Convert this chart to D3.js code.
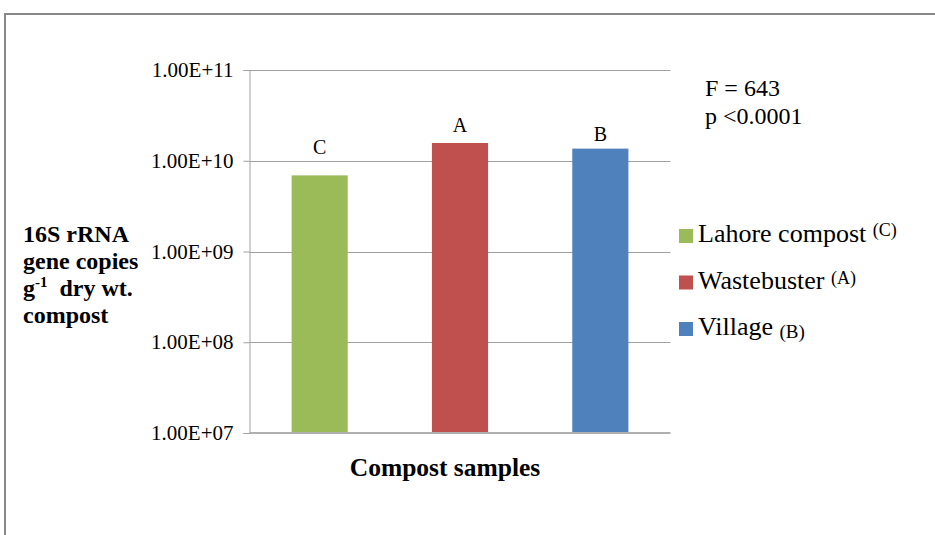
<!DOCTYPE html>
<html>
<head>
<meta charset="utf-8">
<script src="https://cdn.jsdelivr.net/npm/d3@7"></script>
<style>
  body { margin: 0; background: #fff; }
  svg text { font-family: "Liberation Serif", "Times New Roman", serif; }
</style>
</head>
<body>
<svg id="chart"></svg>
<script>
// data
let samples = ['Lahore compost', 'Wastebuster', 'Village'];
let copies = [6.9e9, 1.57e10, 1.36e10];
let groups = ['C', 'A', 'B'];
let colors = ['#9bbb59', '#c0504d', '#4f81bd'];
let tickValues = [1e7, 1e8, 1e9, 1e10, 1e11];
let tickLabels = ['1.00E+07', '1.00E+08', '1.00E+09', '1.00E+10', '1.00E+11'];

// gap between bar top and its letter (layout only)
let letterGaps = [21, 11, 8];

let width = 935,
    height = 535;

let plotLeft = 249.5, plotRight = 670.5,
    plotTop = 70, plotBottom = 433;

let svg = d3.select("svg#chart")
    .attr("width", width)
    .attr("height", height);

// outer frame (only top and left edges are visible)
svg.append("path")
    .attr("d", `M5,${height} L5,14 L${width},14`)
    .attr("fill", "none")
    .attr("stroke", "#888")
    .attr("stroke-width", 2);

let x = d3.scaleBand()
    .domain(samples)
    .range([plotLeft, plotRight])
    .paddingInner(0.6)
    .paddingOuter(0.3);

let y = d3.scaleLog()
    .domain([1e7, 1e11])
    .range([plotBottom, plotTop]);

// gridlines
svg.append("g")
    .selectAll("line")
    .data(tickValues.slice(1))
    .enter().append("line")
    .attr("x1", plotLeft)
    .attr("x2", plotRight)
    .attr("y1", d => Math.round(y(d)) + 0.5)
    .attr("y2", d => Math.round(y(d)) + 0.5)
    .attr("stroke", "#a0a0a0")
    .attr("stroke-width", 1);

// y axis
let yAxis = svg.append("g")
    .attr("transform", `translate(${plotLeft}, 0)`)
    .call(d3.axisLeft(y)
        .tickValues(tickValues)
        .tickFormat((d, i) => tickLabels[i])
        .tickSize(6)
        .tickPadding(10));
yAxis.select(".domain").attr("stroke", "#a0a0a0");
yAxis.selectAll(".tick line").attr("stroke", "#a0a0a0");
yAxis.selectAll(".tick text")
    .attr("font-size", 21)
    .attr("fill", "#000");

// bars
svg.append("g")
    .selectAll("rect")
    .data(samples)
    .enter().append("rect")
    .attr("x", d => x(d))
    .attr("width", x.bandwidth())
    .attr("y", (d, i) => y(copies[i]))
    .attr("height", (d, i) => plotBottom - y(copies[i]))
    .attr("fill", (d, i) => colors[i]);

// x axis baseline
svg.append("line")
    .attr("x1", plotLeft)
    .attr("x2", plotRight)
    .attr("y1", plotBottom)
    .attr("y2", plotBottom)
    .attr("stroke", "#b0b0b0")
    .attr("stroke-width", 2);

// significance letters above bars
svg.append("g")
    .selectAll("text")
    .data(samples)
    .enter().append("text")
    .attr("x", d => x(d) + x.bandwidth() / 2)
    .attr("y", (d, i) => y(copies[i]) - letterGaps[i])
    .attr("text-anchor", "middle")
    .attr("font-size", 20)
    .text((d, i) => groups[i]);

// y axis title
let yTitle = ['16S rRNA', 'gene copies', null, 'compost'];
let yTitleG = svg.append("g")
    .attr("font-weight", "bold")
    .attr("font-size", 24);
yTitle.forEach((t, i) => {
    let ty = 242 + i * 27;
    if (t === null) {
        let tx = yTitleG.append("text").attr("x", 23).attr("y", ty);
        tx.append("tspan").text("g");
        tx.append("tspan").attr("font-size", 15).attr("dy", -9).text("-1");
        tx.append("tspan").attr("dy", 9).text("\u00a0 dry wt.");
    } else {
        yTitleG.append("text").attr("x", 23).attr("y", ty).text(t);
    }
});

// x axis title
svg.append("text")
    .attr("x", 445)
    .attr("y", 476)
    .attr("text-anchor", "middle")
    .attr("font-weight", "bold")
    .attr("font-size", 25.5)
    .text("Compost samples");

// stats
svg.append("text").attr("x", 705).attr("y", 96).attr("font-size", 24).text("F = 643");
svg.append("text").attr("x", 705).attr("y", 124).attr("font-size", 24).text("p <0.0001");

// legend
let legendSub = [{t: '(C)', dy: -6, size: 18}, {t: '(A)', dy: -5, size: 18}, {t: '(B)', dy: 3, size: 19}];
let legend = svg.append("g")
    .selectAll("g")
    .data(samples)
    .enter().append("g")
    .attr("transform", (d, i) => `translate(679, ${242 + i * 46.5})`);
legend.append("rect")
    .attr("x", 0)
    .attr("y", -13)
    .attr("width", 14)
    .attr("height", 14)
    .attr("fill", (d, i) => colors[i]);
let lt = legend.append("text")
    .attr("x", 19)
    .attr("y", 0)
    .attr("font-size", 26);
lt.append("tspan").text(d => d + " ");
lt.append("tspan")
    .attr("font-size", (d, i) => legendSub[i].size)
    .attr("dy", (d, i) => legendSub[i].dy)
    .text((d, i) => legendSub[i].t);
</script>
</body>
</html>
